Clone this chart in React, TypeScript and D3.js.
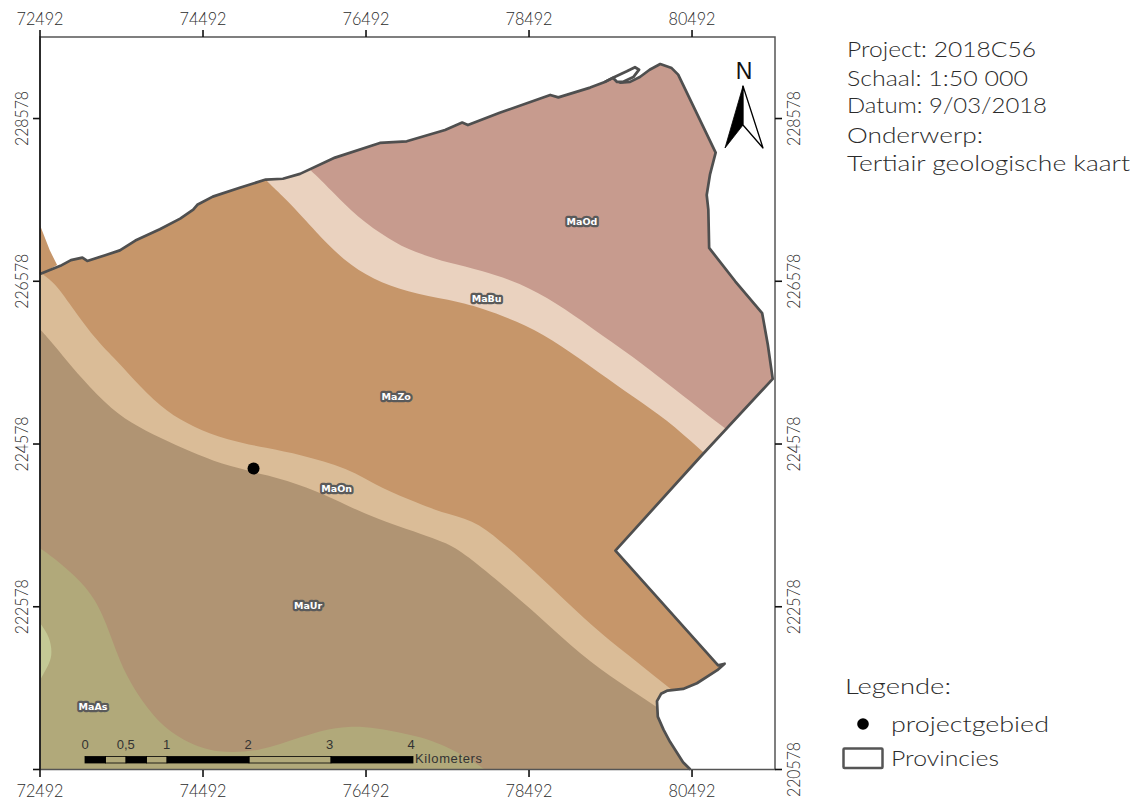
import React from "react";
import * as d3 from "d3";

type P = [number, number];

// All map positions are metres east / north of the map's lower-left corner (72492, 220578).
const originE = 72492;
const originN = 220578;
const mapWidthM = 9018;
const mapHeightM = 9002;
const gridOffsets = [0, 2000, 4000, 6000, 8000];
const leftLabelOffsets = [2000, 4000, 6000, 8000];

const province: P[] = [
  [0, 6090], [250, 6190], [380, 6260], [520, 6290], [580, 6250], [800, 6320], [980, 6380], [1170, 6500],
  [1470, 6640], [1720, 6770], [1880, 6880], [1930, 6940], [2120, 7040], [2450, 7150], [2770, 7250],
  [2980, 7260], [3190, 7320], [3620, 7520], [4170, 7700], [4500, 7720], [4970, 7860], [5180, 7950],
  [5250, 7920], [5640, 8070], [6260, 8290], [6360, 8260], [6750, 8380], [6930, 8450], [7030, 8500],
  [7120, 8440], [7240, 8450], [7360, 8510], [7480, 8600], [7610, 8670], [7750, 8620], [7830, 8540],
  [8290, 7580], [8220, 7310], [8180, 7060], [8200, 6880], [8210, 6410], [8530, 6000], [8860, 5610],
  [8930, 5220], [8990, 4800], [8100, 3840], [7060, 2690], [8320, 1280], [8400, 1300], [8310, 1220],
  [8060, 1060], [7890, 990], [7700, 970], [7620, 930], [7570, 840], [7580, 650], [7650, 490], [7730, 340], [7890, 90], [7980, 0], [0, 0],
];
const islet: P[] = [
  [6930, 8450], [7030, 8500], [7200, 8580], [7300, 8630], [7350, 8600], [7280, 8510], [7150, 8450], [7080, 8450], [7030, 8500],
];
const wedge: P[] = [[0, 6690], [120, 6380], [210, 6200], [0, 6080]];

const lineOdBu: P[] = [
  [3250, 7430], [3350, 7340], [3600, 7090], [3890, 6790], [4290, 6510], [4580, 6360], [5030, 6220], [5400, 6140],
  [5890, 5980], [6340, 5730], [6750, 5440], [7280, 5070], [7690, 4750], [8380, 4210], [8830, 3870],
];
const lineBuZo: P[] = [
  [2720, 7310], [2800, 7210], [3030, 7000], [3400, 6590], [3720, 6260], [4090, 6020], [4500, 5870], [5030, 5770],
  [5400, 5680], [5980, 5460], [6380, 5220], [6870, 4870], [7280, 4580], [7690, 4300], [8100, 3930], [8470, 3620],
];
const lineZoOn: P[] = [
  [0, 6110], [180, 5980], [330, 5770], [680, 5280], [940, 5030], [1230, 4700], [1560, 4390], [1880, 4210], [2290, 4050],
  [2790, 3950], [3190, 3870], [3770, 3710], [4210, 3440], [4630, 3280], [4910, 3160], [5310, 3070], [5640, 2820],
  [6050, 2450], [6470, 2050], [6870, 1680], [7330, 1320], [7710, 1010], [8100, 710],
];
const lineOnUr: P[] = [
  [0, 5410], [120, 5280], [520, 4790], [880, 4420], [1200, 4210], [1570, 4030], [1930, 3870], [2330, 3720], [2790, 3620],
  [3280, 3470], [3680, 3290], [4090, 3090], [4910, 2820], [5150, 2700], [5560, 2370], [6140, 1870], [6630, 1410],
  [7120, 1060], [7550, 780], [7850, 580],
];
const lineUrAs: P[] = [
  [0, 2720], [250, 2540], [580, 2240], [770, 1920], [940, 1430], [1100, 1060], [1440, 570], [1800, 330], [2170, 200],
  [2700, 220], [3190, 400], [3770, 570], [4420, 460], [4910, 340], [5440, 30], [5520, -70],
];
const innerPatch: P[] = [[0, 1800], [120, 1630], [150, 1430], [120, 1310], [0, 1100]];

const zoneNames = ["MaOd", "MaBu", "MaZo", "MaOn", "MaUr", "MaAs"];
const zoneEast = [6650, 5480, 4370, 3640, 3290, 650];
const zoneNorth = [6730, 5790, 4590, 3450, 2010, 780];
const zoneColors = ["#c79b8e", "#ead2bf", "#c6966a", "#dabc97", "#b09473", "#b1a97a", "#c4c995"];

const projectSite: P = [2620, 3700];

const infoLines = ["Project: 2018C56", "Schaal: 1:50 000", "Datum: 9/03/2018", "Onderwerp:", "Tertiair geologische kaart"];
const infoWidths = [189, 181, 200, 136, 283];
const infoBaselines = [57, 86, 113, 143, 171];

const scaleBreaks = [0, 0.25, 0.5, 0.75, 1, 2, 3, 4];
const scaleLabels = [0, 0.5, 1, 2, 3, 4];

const FONT = "Lato, 'Open Sans', sans-serif";
const INK = "#2b2b2b";

export default function App() {
  const x = d3.scaleLinear().domain([0, mapWidthM]).range([40, 775]);
  const y = d3.scaleLinear().domain([0, mapHeightM]).range([769.5, 37]);
  const km = d3.scaleLinear().domain([0, 4]).range([85, 413]);

  const straight = d3.line<P>().x((d) => x(d[0])).y((d) => y(d[1]));
  const smooth = d3.line<P>().x((d) => x(d[0])).y((d) => y(d[1])).curve(d3.curveBasis);

  const below = (pts: P[]) => {
    const last = pts[pts.length - 1];
    const first = pts[0];
    const closing: P[] = [[mapWidthM, last[1]], [mapWidthM, -100], [-100, -100], [-100, first[1] + 200], [first[0], first[1] + 200]];
    return smooth(pts) + (straight(closing) as string).replace("M", "L") + "Z";
  };
  const asBelow = (pts: P[]) => {
    const closing: P[] = [[-100, -100], [-100, pts[0][1]]];
    return smooth(pts) + (straight(closing) as string).replace("M", "L") + "Z";
  };

  const tickLen = 7;
  return (
    <svg
      width={1139}
      height={802}
      viewBox="0 0 1139 802"
      style={{ position: "absolute", left: 0, top: 0, display: "block", background: "#fff" }}
    >
      <defs>
        <clipPath id="prov">
          <path d={(straight(province) as string) + "Z"} />
        </clipPath>
      </defs>

      <path d={straight(wedge) + "Z"} fill={zoneColors[2]} />
      <g clipPath="url(#prov)">
        <rect x={x(0)} y={y(mapHeightM)} width={x(mapWidthM) - x(0)} height={y(0) - y(mapHeightM)} fill={zoneColors[0]} />
        <path d={below(lineOdBu)} fill={zoneColors[1]} />
        <path d={below(lineBuZo)} fill={zoneColors[2]} />
        <path d={below(lineZoOn)} fill={zoneColors[3]} />
        <path d={below(lineOnUr)} fill={zoneColors[4]} />
        <path d={asBelow(lineUrAs)} fill={zoneColors[5]} />
        <path d={smooth(innerPatch) + "Z"} fill={zoneColors[6]} />
      </g>

      <path
        d={straight(province.slice(0, province.length - 1)) as string}
        fill="none"
        stroke="#4f4f4f"
        strokeWidth={2.7}
        strokeLinejoin="round"
      />
      <path d={straight(islet) as string} fill="#fff" stroke="#4f4f4f" strokeWidth={2.8} strokeLinejoin="round" />

      {/* frame */}
      <rect x={40} y={37} width={735} height={732.5} fill="none" stroke="#555" strokeWidth={1.5} />
      <line x1={40} x2={40} y1={37} y2={770} stroke="#111" strokeWidth={1.5} />

      {/* graticule ticks and labels */}
      {gridOffsets.map((e) => (
        <g key={"x" + e} fill={INK} fontFamily={FONT} fontWeight={300} fontSize={18} textAnchor="middle">
          <line x1={x(e)} x2={x(e)} y1={37 - tickLen} y2={37} stroke="#111" strokeWidth={1.6} />
          <line x1={x(e)} x2={x(e)} y1={770} y2={770 + tickLen} stroke="#111" strokeWidth={1.6} />
          <text x={x(e)} y={24.5} textLength={47} lengthAdjust="spacingAndGlyphs">{originE + e}</text>
          <text x={x(e)} y={796.5} textLength={47} lengthAdjust="spacingAndGlyphs">{originE + e}</text>
        </g>
      ))}
      {gridOffsets.map((n) => (
        <g key={"y" + n} fill={INK} fontFamily={FONT} fontWeight={300} fontSize={18} textAnchor="middle">
          <line x1={40 - tickLen} x2={40} y1={y(n)} y2={y(n)} stroke="#111" strokeWidth={1.6} />
          <line x1={775} x2={775 + tickLen} y1={y(n)} y2={y(n)} stroke="#111" strokeWidth={1.6} />
          {leftLabelOffsets.includes(n) && (
            <text transform={`translate(27.5,${y(n)}) rotate(-90)`} textLength={55} lengthAdjust="spacingAndGlyphs">{originN + n}</text>
          )}
          <text transform={`translate(800,${y(n)}) rotate(-90)`} textLength={55} lengthAdjust="spacingAndGlyphs">{originN + n}</text>
        </g>
      ))}

      {/* zone labels */}
      {zoneNames.map((name, i) => (
        <text
          key={name}
          x={x(zoneEast[i])}
          y={y(zoneNorth[i]) + 3.5}
          textAnchor="middle"
          fontFamily="'DejaVu Sans', sans-serif"
          fontWeight="bold"
          fontSize={9.5}
          fill="#fff"
          stroke="#5a5a5a"
          strokeWidth={4.4}
          strokeLinejoin="round"
          paintOrder="stroke"
        >
          {name}
        </text>
      ))}

      {/* project site */}
      <circle cx={x(projectSite[0])} cy={y(projectSite[1])} r={6} fill="#000" />

      {/* scale bar */}
      {scaleBreaks.slice(0, -1).map((b, i) => (
        <rect
          key={b}
          x={km(b)}
          y={756.5}
          width={km(scaleBreaks[i + 1]) - km(b)}
          height={6.5}
          fill={i % 2 === 0 ? "#000" : "none"}
          stroke="#000"
          strokeWidth={0.8}
        />
      ))}
      {scaleLabels.map((k) => (
        <text key={k} x={km(k) - k * 0.5} y={749} textAnchor="middle" fontFamily="'Liberation Sans', Arial, sans-serif" fontSize={13} fill="#333">
          {String(k).replace(".", ",")}
        </text>
      ))}
      <text x={415} y={763} fontFamily="'Liberation Sans', Arial, sans-serif" fontSize={13} fill="#333" textLength={67}>
        Kilometers
      </text>

      {/* north arrow */}
      <text x={744} y={79} textAnchor="middle" fontFamily="'Liberation Sans', Arial, sans-serif" fontSize={23} fill="#111">N</text>
      <path d="M743,86 L725,148 L743,125 Z" fill="#000" stroke="#000" strokeWidth={0.8} strokeLinejoin="round" />
      <path d="M743,86 L763,148 L743,125 Z" fill="#fff" stroke="#000" strokeWidth={1.3} strokeLinejoin="round" />

      {/* project info */}
      {infoLines.map((t, i) => (
        <text key={t} x={847} y={infoBaselines[i]} fontFamily={FONT} fontWeight={300} fontSize={21} fill={INK} textLength={infoWidths[i]} lengthAdjust="spacingAndGlyphs">
          {t}
        </text>
      ))}

      {/* legend */}
      <text x={845} y={694} fontFamily={FONT} fontWeight={300} fontSize={21} fill={INK} textLength={106} lengthAdjust="spacingAndGlyphs">Legende:</text>
      <circle cx={863} cy={724} r={5.8} fill="#000" />
      <text x={891} y={732} fontFamily={FONT} fontWeight={300} fontSize={21} fill={INK} textLength={158} lengthAdjust="spacingAndGlyphs">projectgebied</text>
      <rect x={843.5} y={748.5} width={39} height={19.5} rx={1} fill="#fff" stroke="#555" strokeWidth={2.5} />
      <text x={891} y={766} fontFamily={FONT} fontWeight={300} fontSize={21} fill={INK} textLength={108} lengthAdjust="spacingAndGlyphs">Provincies</text>
    </svg>
  );
}
